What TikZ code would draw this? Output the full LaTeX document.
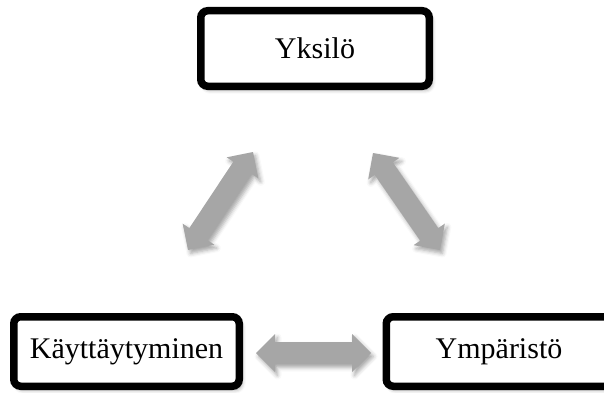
\documentclass[tikz,border=0pt]{standalone}
\usepackage{fontspec}
\setmainfont{Liberation Serif}
\usetikzlibrary{calc,shadows.blur}

% Double-headed block arrow between two named coordinates
\newcommand\blockarrow[2]{%
  \path[blockarrow]
    (#1) -- ($(#1)!19pt!(#2)!19pt!90:(#2)$) -- ($(#1)!19pt!(#2)!11pt!90:(#2)$)
    -- ($(#2)!19pt!(#1)!11pt!-90:(#1)$) -- ($(#2)!19pt!(#1)!19pt!-90:(#1)$)
    -- (#2)
    -- ($(#2)!19pt!(#1)!19pt!90:(#1)$) -- ($(#2)!19pt!(#1)!11pt!90:(#1)$)
    -- ($(#1)!19pt!(#2)!11pt!-90:(#2)$) -- ($(#1)!19pt!(#2)!19pt!-90:(#2)$)
    -- cycle;}

\begin{document}
\begin{tikzpicture}[x=1pt,y=1pt,
  box/.style={draw=black, line width=7.5pt, rounded corners=7pt, fill=white,
    inner sep=0pt, font=\fontsize{30}{36}\selectfont,
    blur shadow={shadow xshift=2.5pt, shadow yshift=-3.5pt,
      shadow blur radius=4pt, shadow opacity=40}},
  blockarrow/.style={fill=arrowgray,
    blur shadow={shadow xshift=2.5pt, shadow yshift=-3.5pt,
      shadow blur radius=4pt, shadow opacity=35}}]
\definecolor{arrowgray}{HTML}{A6A6A6}
\useasboundingbox (0,0) rectangle (604,392);
\clip (0,0) rectangle (604,392);

% the three boxes
\node[box, minimum width=228.5pt, minimum height=75.5pt] (yks) at (315,343.5) {Yksilö};
\node[box, minimum width=225.5pt, minimum height=69.5pt] (kay) at (126.5,40.5) {Käyttäytyminen};
\node[box, minimum width=225.5pt, minimum height=69.5pt] (ymp) at (499,40.5) {Ympäristö};

% arrow end points between the boxes
\coordinate (l1) at (188,142);
\coordinate (l2) at (253,240);
\coordinate (r1) at (373,239);
\coordinate (r2) at (440,142);
\coordinate (h1) at (256,39);
\coordinate (h2) at (371,39);

\blockarrow{l1}{l2}
\blockarrow{r1}{r2}
\blockarrow{h1}{h2}
\end{tikzpicture}
\end{document}
